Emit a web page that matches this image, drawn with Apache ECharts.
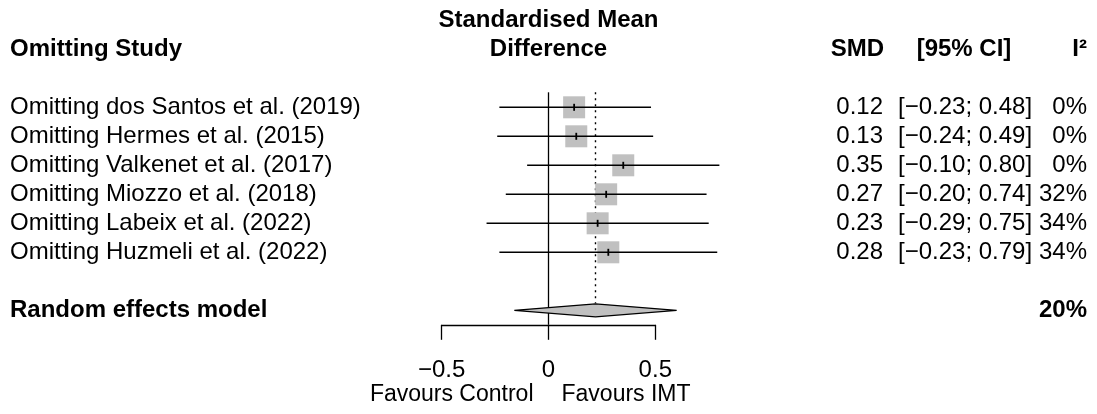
<!DOCTYPE html>
<html>
<head>
<meta charset="utf-8">
<script src="https://cdn.jsdelivr.net/npm/echarts@6/dist/echarts.min.js"></script>
<style>
  html, body { margin: 0; padding: 0; background: #fff; }
  #chart { width: 1097px; height: 414px; }
</style>
</head>
<body>
<div id="chart"></div>
<script>
// Leave-one-out sensitivity analysis
const studies = [
  'Omitting dos Santos et al. (2019)',
  'Omitting Hermes et al. (2015)',
  'Omitting Valkenet et al. (2017)',
  'Omitting Miozzo et al. (2018)',
  'Omitting Labeix et al. (2022)',
  'Omitting Huzmeli et al. (2022)'
];
const smd = [0.12, 0.13, 0.35, 0.27, 0.23, 0.28];
const lower = [-0.23, -0.24, -0.10, -0.20, -0.29, -0.23];
const upper = [0.48, 0.49, 0.80, 0.74, 0.75, 0.79];
const i2 = [0, 0, 0, 32, 34, 34];

const pooledLabel = 'Random effects model';
const pooledSmd = 0.22;
const pooledLower = -0.16;
const pooledUpper = 0.60;
const pooledI2 = 20;

const xTicks = [-0.5, 0, 0.5];
const favoursLeft = 'Favours Control';
const favoursRight = 'Favours IMT';

const FONT = '"Liberation Sans", Arial, Helvetica, sans-serif';
const FS = 24;
const pooledRow = studies.length + 2;

const fmt = v => (v < 0 ? '\u2212' : '') + Math.abs(v).toFixed(2);
const ciText = (l, u) => '[' + fmt(l) + '; ' + fmt(u) + ']';

// study rows: [estimate, lower, upper, row]
const rows = smd.map((v, i) => [v, lower[i], upper[i], i + 1]);

function txt(x, y, s, align, bold, size) {
  return {
    type: 'text',
    style: {
      x: x, y: y, text: s, fill: '#000',
      font: (bold ? 'bold ' : '') + (size || FS) + 'px ' + FONT,
      textAlign: align || 'left', textVerticalAlign: 'middle'
    }
  };
}

const chart = echarts.init(document.getElementById('chart'), null, { renderer: 'canvas' });

chart.setOption({
  animation: false,
  backgroundColor: '#fff',
  grid: { left: 441.7, right: 441.7, top: 92.8, bottom: 89.2 },
  xAxis: {
    type: 'value', min: -0.5, max: 0.5, interval: 0.5,
    splitLine: { show: false },
    axisLine: { show: true, onZero: false, lineStyle: { color: '#000', width: 1.3 } },
    axisTick: { show: true, length: 15, lineStyle: { color: '#000', width: 1.3 } },
    axisLabel: {
      fontSize: FS, fontFamily: FONT, color: '#000', margin: 34,
      customValues: xTicks,
      formatter: v => v === 0 ? '0' : (v < 0 ? '\u2212' : '') + Math.abs(v)
    }
  },
  yAxis: { type: 'value', inverse: true, min: 0.5, max: 8.5, show: false },
  series: [
    {
      // reference lines: no effect and pooled estimate
      type: 'custom', clip: false, silent: true,
      data: [[0]],
      renderItem: function (params, api) {
        const top = api.coord([0, 0.5]);
        const bot = api.coord([0, 8.5]);
        const p = api.coord([pooledSmd, pooledRow]);
        return {
          type: 'group', children: [
            { type: 'line', shape: { x1: top[0], y1: top[1] - 0.5, x2: bot[0], y2: bot[1] },
              style: { stroke: '#000', lineWidth: 1.3 } },
            { type: 'line', shape: { x1: p[0], y1: top[1] - 0.5, x2: p[0], y2: p[1] - 7 },
              style: { stroke: '#000', lineWidth: 1.4, lineDash: [2, 4] } }
          ]
        };
      }
    },
    {
      // individual leave-one-out estimates
      type: 'custom', clip: false, silent: true,
      data: rows,
      encode: { x: [0, 1, 2], y: 3 },
      renderItem: function (params, api) {
        const c = api.coord([api.value(0), api.value(3)]);
        const l = api.coord([api.value(1), api.value(3)]);
        const u = api.coord([api.value(2), api.value(3)]);
        const s = 22;
        return {
          type: 'group', children: [
            { type: 'rect', shape: { x: c[0] - s / 2, y: c[1] - s / 2, width: s, height: s },
              style: { fill: '#c0c0c0' } },
            { type: 'line', shape: { x1: l[0], y1: l[1], x2: u[0], y2: u[1] },
              style: { stroke: '#000', lineWidth: 1.4 } },
            { type: 'line', shape: { x1: c[0], y1: c[1] - 3.5, x2: c[0], y2: c[1] + 3.5 },
              style: { stroke: '#000', lineWidth: 1.8 } }
          ]
        };
      }
    },
    {
      // pooled estimate diamond
      type: 'custom', clip: false, silent: true,
      data: [[pooledSmd, pooledLower, pooledUpper, pooledRow]],
      renderItem: function (params, api) {
        const c = api.coord([api.value(0), api.value(3)]);
        const l = api.coord([api.value(1), api.value(3)]);
        const u = api.coord([api.value(2), api.value(3)]);
        const h = 6.5;
        return {
          type: 'polygon',
          shape: { points: [[l[0], c[1]], [c[0], c[1] - h], [u[0], c[1]], [c[0], c[1] + h]] },
          style: { fill: '#c0c0c0', stroke: '#000', lineWidth: 1.3 }
        };
      }
    },
    {
      // text columns
      type: 'custom', clip: false, silent: true,
      data: [[0]],
      renderItem: function (params, api) {
        const y = r => api.coord([0, r])[1];
        const xMid = api.coord([0, 1])[0];
        const kids = [
          txt(xMid, y(-2), 'Standardised Mean', 'center', true),
          txt(xMid, y(-1), 'Difference', 'center', true),
          txt(10, y(-1), 'Omitting Study', 'left', true),
          txt(884, y(-1), 'SMD', 'right', true),
          txt(964, y(-1), '[95% CI]', 'center', true),
          txt(1087, y(-1), 'I\u00b2', 'right', true)
        ];
        studies.forEach((name, i) => {
          const yy = y(i + 1);
          kids.push(txt(10, yy, name, 'left', false));
          kids.push(txt(883, yy, smd[i].toFixed(2), 'right', false));
          kids.push(txt(898, yy, ciText(lower[i], upper[i]), 'left', false));
          kids.push(txt(1087, yy, i2[i] + '%', 'right', false));
        });
        kids.push(txt(10, y(pooledRow), pooledLabel, 'left', true));
        kids.push(txt(1087, y(pooledRow), pooledI2 + '%', 'right', true));
        kids.push(txt(xMid - 15, 395, favoursLeft, 'right', false, 23));
        kids.push(txt(xMid + 13, 395, favoursRight, 'left', false, 23));
        return { type: 'group', children: kids };
      }
    }
  ]
});
</script>
</body>
</html>
